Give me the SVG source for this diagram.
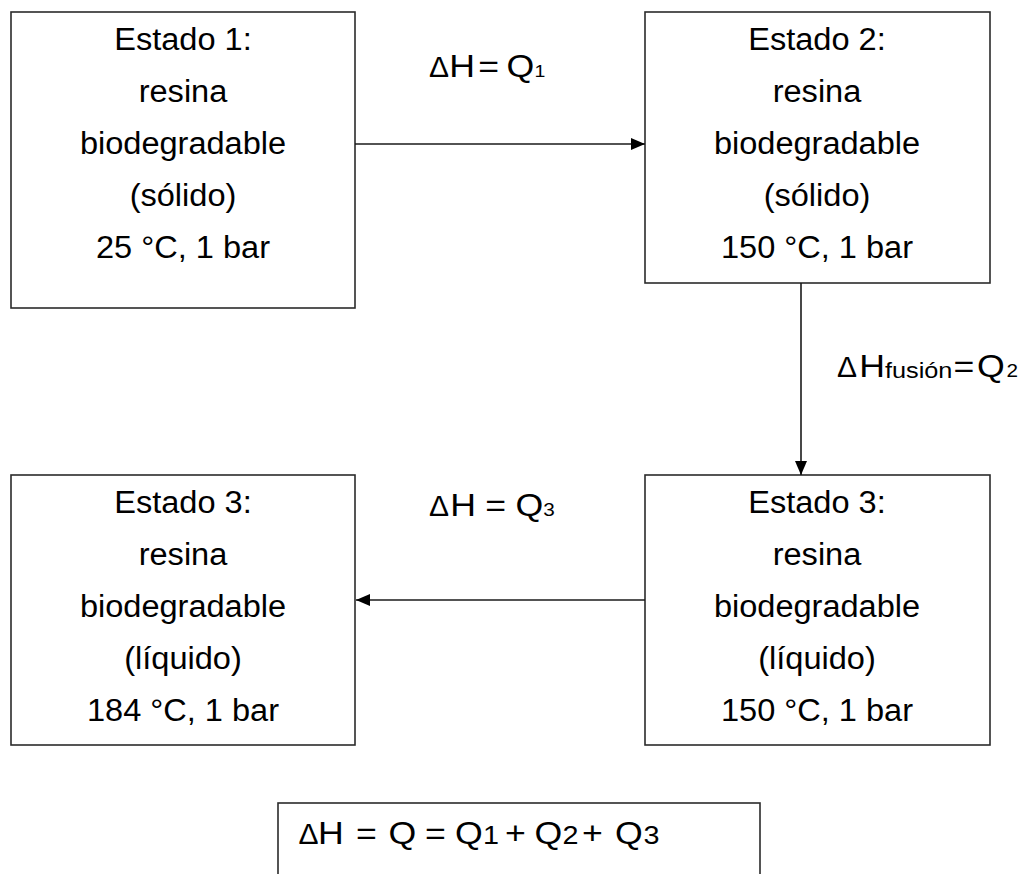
<svg xmlns="http://www.w3.org/2000/svg" width="1025" height="874" viewBox="0 0 1025 874">
  <style>
    .box { fill: #ffffff; stroke: #2b2b2b; stroke-width: 1.6; }
    .txt { font-family: "Liberation Sans", Arial, sans-serif; font-size: 31px; fill: #000000; text-anchor: middle; }
    .lbl { font-family: "Liberation Sans", Arial, sans-serif; font-size: 31px; fill: #000000; }
    .delta { font-family: "Liberation Sans", Arial, sans-serif; font-size: 30px; fill: #000000; }
    .conn { stroke: #1a1a1a; stroke-width: 1.6; fill: none; marker-end: url(#arrow); }
  </style>
  <defs>
    <marker id="arrow" viewBox="0 0 14 12" refX="14" refY="6" markerWidth="14" markerHeight="12" markerUnits="userSpaceOnUse" orient="auto">
      <path d="M0,0 L14,6 L0,12 Z" fill="#000000"/>
    </marker>
  </defs>
  <rect width="1025" height="874" fill="#ffffff"/>

  <!-- state boxes: text slightly widened (x 1.05) around each line's centre -->
  <g id="estado1">
    <rect class="box" x="11" y="12" width="344" height="296"/>
    <text class="txt" transform="matrix(1.05 0 0 1 183 50)">Estado 1:</text>
    <text class="txt" transform="matrix(1.05 0 0 1 183 102)">resina</text>
    <text class="txt" transform="matrix(1.05 0 0 1 183 154)">biodegradable</text>
    <text class="txt" transform="matrix(1.05 0 0 1 183 206)">(sólido)</text>
    <text class="txt" transform="matrix(1.05 0 0 1 183 258)">25 °C, 1 bar</text>
  </g>

  <g id="estado2">
    <rect class="box" x="645" y="12" width="345" height="271"/>
    <text class="txt" transform="matrix(1.05 0 0 1 817 50)">Estado 2:</text>
    <text class="txt" transform="matrix(1.05 0 0 1 817 102)">resina</text>
    <text class="txt" transform="matrix(1.05 0 0 1 817 154)">biodegradable</text>
    <text class="txt" transform="matrix(1.05 0 0 1 817 206)">(sólido)</text>
    <text class="txt" transform="matrix(1.05 0 0 1 817 258)">150 °C, 1 bar</text>
  </g>

  <g id="estado3-liquido-150">
    <rect class="box" x="645" y="475" width="345" height="270"/>
    <text class="txt" transform="matrix(1.05 0 0 1 817 513)">Estado 3:</text>
    <text class="txt" transform="matrix(1.05 0 0 1 817 565)">resina</text>
    <text class="txt" transform="matrix(1.05 0 0 1 817 617)">biodegradable</text>
    <text class="txt" transform="matrix(1.05 0 0 1 817 669)">(líquido)</text>
    <text class="txt" transform="matrix(1.05 0 0 1 817 721)">150 °C, 1 bar</text>
  </g>

  <g id="estado3-liquido-184">
    <rect class="box" x="11" y="475" width="344" height="270"/>
    <text class="txt" transform="matrix(1.05 0 0 1 183 513)">Estado 3:</text>
    <text class="txt" transform="matrix(1.05 0 0 1 183 565)">resina</text>
    <text class="txt" transform="matrix(1.05 0 0 1 183 617)">biodegradable</text>
    <text class="txt" transform="matrix(1.05 0 0 1 183 669)">(líquido)</text>
    <text class="txt" transform="matrix(1.05 0 0 1 183 721)">184 °C, 1 bar</text>
  </g>

  <!-- overall balance: plain delta, the rest in wide glyphs (x 1.15) -->
  <g id="balance">
    <rect class="box" x="278" y="803" width="482" height="90"/>
    <text class="delta" x="298.5" y="844" font-size="29">Δ</text>
    <text class="lbl" transform="matrix(1.15 0 0 1 318 844)"><tspan x="0">H</tspan><tspan x="33">=</tspan><tspan x="61.3">Q</tspan><tspan x="93">=</tspan><tspan x="119.1">Q</tspan><tspan x="143.5" font-size="25">1</tspan><tspan x="162.6">+</tspan><tspan x="188.3">Q</tspan><tspan x="212.6" font-size="25">2</tspan><tspan x="229.6">+</tspan><tspan x="258.3">Q</tspan><tspan x="283" font-size="25">3</tspan></text>
  </g>

  <g id="connectors">
    <line class="conn" x1="355" y1="144" x2="645" y2="144"/>
    <line class="conn" x1="801" y1="283" x2="801" y2="475"/>
    <line class="conn" x1="645" y1="600" x2="356" y2="600"/>

    <text class="delta" x="429" y="77">Δ</text>
    <text class="lbl" transform="matrix(1.15 0 0 1 449.2 77)"><tspan x="0">H</tspan><tspan x="25.2">=</tspan><tspan x="49.8">Q</tspan><tspan x="74.2" font-size="17">1</tspan></text>

    <text class="delta" x="837" y="377">Δ</text>
    <text class="lbl" transform="matrix(1.15 0 0 1 859.2 377)"><tspan x="0">H</tspan><tspan x="22.4" y="1" font-size="22">fusión</tspan><tspan x="82" y="0">=</tspan><tspan x="102.5">Q</tspan><tspan x="128" font-size="18">2</tspan></text>

    <text class="delta" x="429" y="516">Δ</text>
    <text class="lbl" transform="matrix(1.15 0 0 1 450.2 516)"><tspan x="0">H</tspan><tspan x="30.4">=</tspan><tspan x="56.8">Q</tspan><tspan x="81" font-size="18">3</tspan></text>
  </g>
</svg>
